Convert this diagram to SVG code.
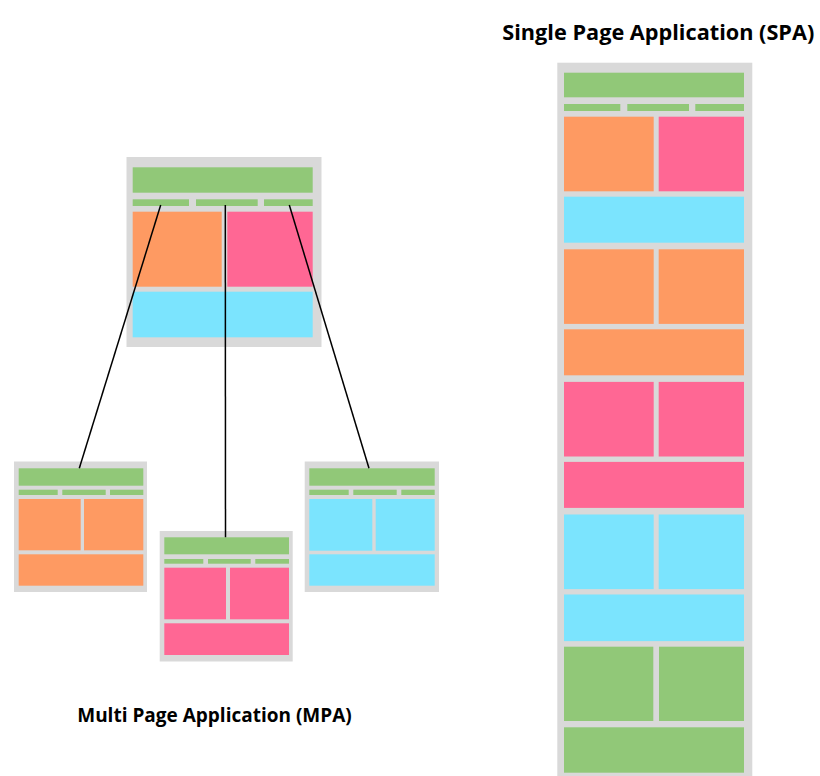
<svg xmlns="http://www.w3.org/2000/svg" width="820" height="776" viewBox="0 0 820 776">
<style>
.bg{fill:#d9d9d9}
.g{fill:#91c878}
.o{fill:#fe9a62}
.p{fill:#ff6794}
.c{fill:#7be4fe}
.lbl{font-family:"Open Sans","Liberation Sans",sans-serif;font-weight:bold;fill:#000;text-anchor:middle}
.conn line{stroke:#000;stroke-width:1.5}
</style>
<rect width="820" height="776" fill="#fff"/>

<g id="mpa-main">
<rect class="bg" x="126.5" y="157" width="195" height="190"/>
<rect class="g" x="132.7" y="167.3" width="180" height="25.4"/>
<rect class="g" x="132.7" y="199.3" width="56.3" height="6.7"/>
<rect class="g" x="196" y="199.3" width="61.7" height="6.7"/>
<rect class="g" x="264" y="199.3" width="48.7" height="6.7"/>
<rect class="o" x="132.7" y="211.7" width="89" height="75"/>
<rect class="p" x="227.3" y="211.7" width="85.4" height="75"/>
<rect class="c" x="132.7" y="291.7" width="180" height="45.6"/>
</g>

<g id="mpa-page-orange">
<rect class="bg" x="14" y="461.5" width="133" height="130.5"/>
<rect class="g" x="18.7" y="468.3" width="124.6" height="17.4"/>
<rect class="g" x="18.7" y="489.7" width="39" height="5.3"/>
<rect class="g" x="62.3" y="489.7" width="43.4" height="5.3"/>
<rect class="g" x="110" y="489.7" width="33.3" height="5.3"/>
<rect class="o" x="18.7" y="499" width="62" height="51.3"/>
<rect class="o" x="84" y="499" width="59.3" height="51.3"/>
<rect class="o" x="18.7" y="554.3" width="124.6" height="31.4"/>
</g>

<g id="mpa-page-pink">
<rect class="bg" x="159.7" y="531" width="133" height="130.5"/>
<rect class="g" x="164.3" y="537.3" width="124.7" height="17"/>
<rect class="g" x="164.3" y="559" width="39" height="4.7"/>
<rect class="g" x="208" y="559" width="42.7" height="4.7"/>
<rect class="g" x="255.3" y="559" width="33.7" height="4.7"/>
<rect class="p" x="164.3" y="567.7" width="61.7" height="51.6"/>
<rect class="p" x="230" y="567.7" width="59" height="51.6"/>
<rect class="p" x="164.3" y="623.3" width="124.7" height="31.7"/>
</g>

<g id="mpa-page-cyan">
<rect class="bg" x="304.7" y="461.5" width="134.3" height="130.5"/>
<rect class="g" x="309.3" y="468.3" width="125.4" height="17.4"/>
<rect class="g" x="309.3" y="489.7" width="39.4" height="5.3"/>
<rect class="g" x="353.3" y="489.7" width="43.4" height="5.3"/>
<rect class="g" x="401.3" y="489.7" width="33.4" height="5.3"/>
<rect class="c" x="309.3" y="499" width="63" height="51.7"/>
<rect class="c" x="375.7" y="499" width="59" height="51.7"/>
<rect class="c" x="309.3" y="554.3" width="125.4" height="31.4"/>
</g>

<g id="connectors" class="conn">
<line x1="160.7" y1="205" x2="79.3" y2="468.3"/>
<line x1="225.3" y1="205" x2="225.5" y2="537.3"/>
<line x1="289.3" y1="205" x2="369" y2="468.3"/>
</g>

<g id="spa-page">
<rect class="bg" x="557.3" y="62.7" width="195" height="713.3"/>
<rect class="g" x="564" y="72.7" width="180" height="24.6"/>
<rect class="g" x="564" y="104" width="56.3" height="7"/>
<rect class="g" x="627.3" y="104" width="61.7" height="7"/>
<rect class="g" x="695.3" y="104" width="48.7" height="7"/>
<rect class="o" x="564" y="116.7" width="89.7" height="74.6"/>
<rect class="p" x="658.7" y="116.7" width="85.3" height="74.6"/>
<rect class="c" x="564" y="196.7" width="180" height="46"/>
<rect class="o" x="564" y="249.3" width="89.7" height="74.6"/>
<rect class="o" x="658.7" y="249.3" width="85.3" height="74.6"/>
<rect class="o" x="564" y="329.3" width="180" height="46"/>
<rect class="p" x="564" y="381.9" width="89.7" height="74.6"/>
<rect class="p" x="658.7" y="381.9" width="85.3" height="74.6"/>
<rect class="p" x="564" y="461.9" width="180" height="46"/>
<rect class="c" x="564" y="514.5" width="89.7" height="74.6"/>
<rect class="c" x="658.7" y="514.5" width="85.3" height="74.6"/>
<rect class="c" x="564" y="594.5" width="180" height="46.6"/>
<rect class="g" x="564" y="646.7" width="89.3" height="74.3"/>
<rect class="g" x="659" y="646.7" width="85" height="74.3"/>
<rect class="g" x="564" y="727.3" width="180" height="45.4"/>
</g>

<g id="label-spa">
<text class="lbl" x="658.3" y="39.5" font-size="21.7">Single Page Application (SPA)</text>
</g>
<g id="label-mpa">
<text class="lbl" x="214.5" y="722" font-size="19">Multi Page Application (MPA)</text>
</g>
</svg>
